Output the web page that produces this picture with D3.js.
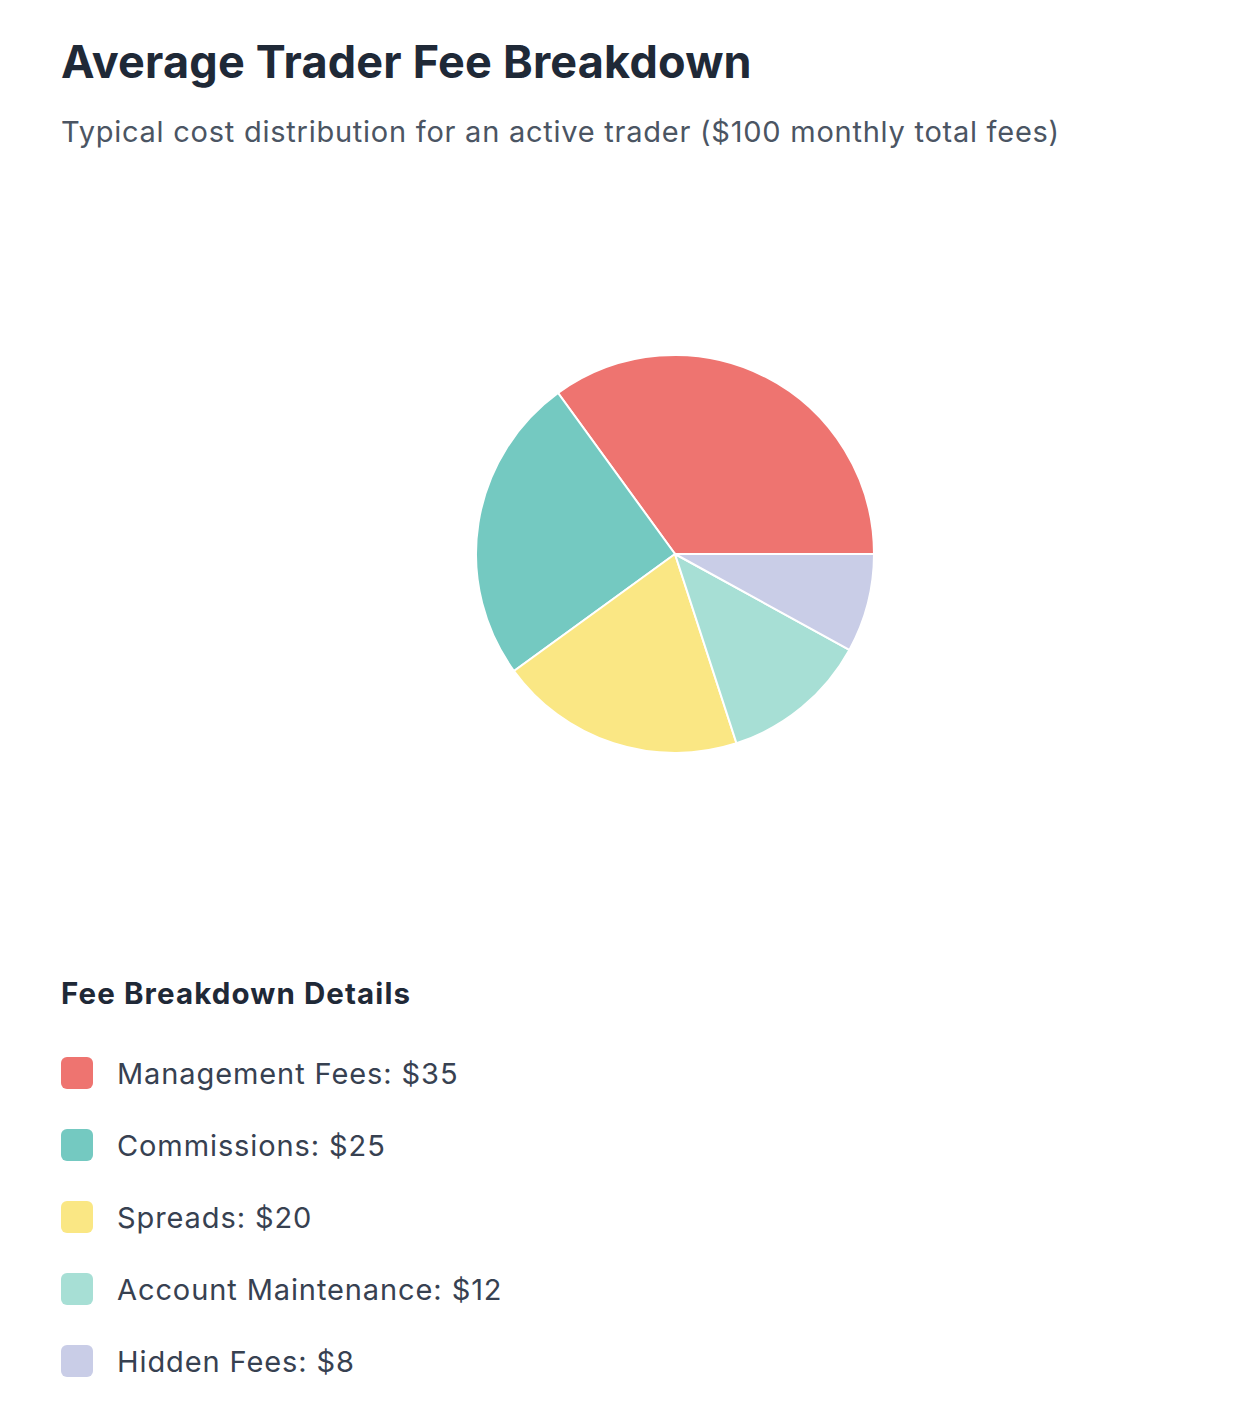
<!DOCTYPE html>
<html>
<head>
<meta charset="utf-8">
<script src="https://cdn.jsdelivr.net/npm/d3@7"></script>
<style>
  html, body { margin: 0; padding: 0; background: #fff; }
  svg { display: block; font-family: Inter, "Noto Sans", sans-serif; }
</style>
<title>Average Trader Fee Breakdown</title>
</head>
<body>
<div id="chart"></div>
<script>
  var categories = ["Management Fees", "Commissions", "Spreads", "Account Maintenance", "Hidden Fees"];
  var values = [35, 25, 20, 12, 8];
  var colors = ["#EE7470", "#74C9C1", "#FAE784", "#A7DFD5", "#C9CDE7"];

  var width = 1245, height = 1420;
  var cx = 675, cy = 554, radius = 199;

  var svg = d3.select("#chart").append("svg")
    .attr("width", width)
    .attr("height", height);

  svg.append("text")
    .attr("x", 61).attr("y", 78)
    .attr("font-size", 45).attr("font-weight", 700)
    .attr("letter-spacing", 0.2)
    .attr("fill", "#1f2937")
    .text("Average Trader Fee Breakdown");

  svg.append("text")
    .attr("x", 61).attr("y", 142)
    .attr("font-size", 29)
    .attr("letter-spacing", 0.75)
    .attr("fill", "#4b5563")
    .text("Typical cost distribution for an active trader ($100 monthly total fees)");

  // pie runs counter-clockwise from 3 o'clock
  var pie = d3.pie().sort(null)
    .startAngle(Math.PI / 2)
    .endAngle(Math.PI / 2 - 2 * Math.PI);
  var arc = d3.arc().innerRadius(0).outerRadius(radius);
  var color = d3.scaleOrdinal().domain(categories).range(colors);

  var g = svg.append("g").attr("transform", "translate(" + cx + "," + cy + ")");
  g.selectAll("path")
    .data(pie(values))
    .join("path")
    .attr("d", arc)
    .attr("fill", function(d, i) { return color(categories[i]); })
    .attr("stroke", "#fff")
    .attr("stroke-width", 2);

  svg.append("text")
    .attr("x", 61).attr("y", 1004)
    .attr("font-size", 29.5).attr("font-weight", 700)
    .attr("letter-spacing", 1.1)
    .attr("fill", "#1f2937")
    .text("Fee Breakdown Details");

  var y = d3.scaleBand().domain(categories).range([1037, 1397]);

  var item = svg.selectAll("g.legend")
    .data(categories)
    .join("g")
    .attr("class", "legend")
    .attr("transform", function(d) { return "translate(0," + y(d) + ")"; });

  item.append("rect")
    .attr("x", 61).attr("y", 20)
    .attr("width", 32).attr("height", 32)
    .attr("rx", 6)
    .attr("fill", function(d) { return color(d); });

  item.append("text")
    .attr("x", 117).attr("y", 47)
    .attr("font-size", 29)
    .attr("letter-spacing", 0.9)
    .attr("fill", "#374151")
    .text(function(d, i) { return d + ": $" + values[i]; });
</script>
</body>
</html>
